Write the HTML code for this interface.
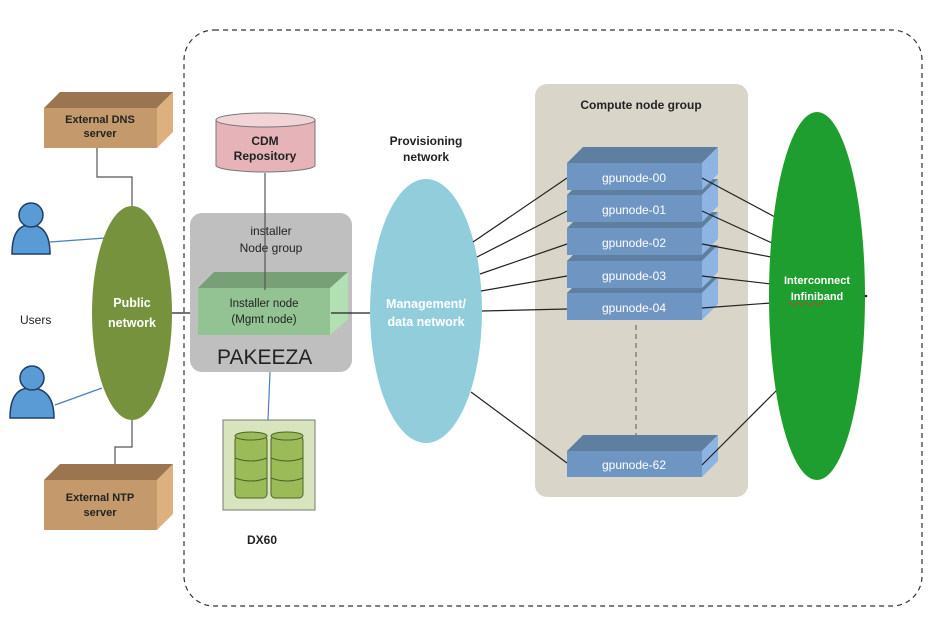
<!DOCTYPE html>
<html><head><meta charset="utf-8"><style>
body{margin:0;background:#fff;}
svg{display:block;font-family:"Liberation Sans",sans-serif;}
</style></head><body>
<svg width="934" height="634" viewBox="0 0 934 634" xmlns="http://www.w3.org/2000/svg">
<rect x="184" y="30" width="738" height="576" rx="30" fill="none" stroke="#333" stroke-width="1.2" stroke-dasharray="5,4"/>
<polyline points="97,148 97,177 132,177 132,207" fill="none" stroke="#555" stroke-width="1.2"/>
<polyline points="132,420 132,447 115,447 115,480" fill="none" stroke="#555" stroke-width="1.2"/>
<line x1="50" y1="242" x2="105" y2="238" stroke="#4a7fc1" stroke-width="1.2"/>
<line x1="55" y1="405" x2="102" y2="388" stroke="#4a7fc1" stroke-width="1.2"/>
<line x1="170" y1="313" x2="200" y2="313" stroke="#222" stroke-width="1.2"/>
<polygon points="44,108 60,92 173,92 157,108" fill="#9a7550"/>
<polygon points="157,108 173,92 173,132 157,148" fill="#ddb07f"/>
<rect x="44" y="108" width="113" height="40" fill="#c49a6c"/>
<text x="100" y="123" font-size="11" font-weight="bold" text-anchor="middle" fill="#222">External DNS</text>
<text x="100" y="137" font-size="11" font-weight="bold" text-anchor="middle" fill="#222">server</text>
<polygon points="44,480 60,464 173,464 157,480" fill="#9a7550"/>
<polygon points="157,480 173,464 173,514 157,530" fill="#ddb07f"/>
<rect x="44" y="480" width="113" height="50" fill="#c49a6c"/>
<text x="100" y="501" font-size="11" font-weight="bold" text-anchor="middle" fill="#222">External NTP</text>
<text x="100" y="516" font-size="11" font-weight="bold" text-anchor="middle" fill="#222">server</text>
<g fill="#5b9bd5" stroke="#1f3f66" stroke-width="1.5">
<path d="M12,254 Q12,225 30,225 Q50,225 50,254 Z"/><circle cx="31" cy="215" r="12"/>
<path d="M10,418 Q10,388 30,388 Q54,388 54,418 Z"/><circle cx="32" cy="378" r="12"/>
</g>
<text x="20" y="324" font-size="12" fill="#222">Users</text>
<ellipse cx="132" cy="313" rx="40" ry="107" fill="#76923c"/>
<text x="132" y="307" font-size="12.5" font-weight="bold" text-anchor="middle" fill="#fff">Public</text>
<text x="132" y="327" font-size="12.5" font-weight="bold" text-anchor="middle" fill="#fff">network</text>
<rect x="190" y="213" width="162" height="159" rx="12" fill="#bfbfbf"/>
<text x="271" y="235" font-size="12" text-anchor="middle" fill="#222">installer</text>
<text x="271" y="252" font-size="12" text-anchor="middle" fill="#222">Node group</text>
<polygon points="198,288 214,272 348,272 330,288" fill="#77a077"/>
<polygon points="330,288 348,272 348,319 330,335" fill="#b3e0b3"/>
<rect x="198" y="288" width="132" height="47" fill="#93c393"/>
<text x="264" y="307" font-size="11.5" text-anchor="middle" fill="#222">Installer node</text>
<text x="264" y="323" font-size="11.5" text-anchor="middle" fill="#222">(Mgmt node)</text>
<text x="217" y="364" font-size="21" fill="#222">PAKEEZA</text>
<line x1="265" y1="173" x2="265" y2="290" stroke="#555" stroke-width="1.2"/>
<line x1="331" y1="313" x2="372" y2="313" stroke="#222" stroke-width="1.2"/>
<path d="M216,120 L216,166 A50,7 0 0 0 315,166 L315,120 Z" fill="#e6b4b8" stroke="#777"/>
<ellipse cx="265.5" cy="120" rx="49.5" ry="7" fill="#f2d4d7" stroke="#777"/>
<text x="265" y="145" font-size="12" font-weight="bold" text-anchor="middle" fill="#222">CDM</text>
<text x="265" y="160" font-size="12" font-weight="bold" text-anchor="middle" fill="#222">Repository</text>
<line x1="270" y1="372" x2="268" y2="420" stroke="#4a7fc1" stroke-width="1.2"/>
<rect x="223" y="420" width="92" height="90" fill="#d7e4bd" stroke="#777"/>
<g fill="#9bbb59" stroke="#4f6228" stroke-width="1">
<rect x="235" y="436" width="32" height="62" rx="4"/><rect x="271" y="436" width="32" height="62" rx="4"/>
<ellipse cx="251" cy="436" rx="16" ry="4"/><ellipse cx="287" cy="436" rx="16" ry="4"/>
<path d="M235,458 Q251,464 267,458 M271,458 Q287,464 303,458 M235,478 Q251,484 267,478 M271,478 Q287,484 303,478" fill="none"/>
</g>
<text x="262" y="544" font-size="12" font-weight="bold" text-anchor="middle" fill="#222">DX60</text>
<text x="426" y="145" font-size="12" font-weight="bold" text-anchor="middle" fill="#222">Provisioning</text>
<text x="426" y="161" font-size="12" font-weight="bold" text-anchor="middle" fill="#222">network</text>
<ellipse cx="426" cy="311" rx="56" ry="132" fill="#92cddc"/>
<text x="426" y="308" font-size="12.5" font-weight="bold" text-anchor="middle" fill="#fff">Management/</text>
<text x="426" y="326" font-size="12.5" font-weight="bold" text-anchor="middle" fill="#fff">data network</text>
<rect x="535" y="84" width="213" height="413" rx="12" fill="#d9d6c9"/>
<text x="641" y="109" font-size="12" font-weight="bold" text-anchor="middle" fill="#222">Compute node group</text>
<line x1="636" y1="325" x2="636" y2="452" stroke="#555" stroke-dasharray="5,4"/>
<g stroke="#222" stroke-width="1.2">
<line x1="473" y1="242" x2="567" y2="178"/><line x1="477" y1="257" x2="567" y2="211"/>
<line x1="480" y1="274" x2="567" y2="244"/><line x1="481" y1="291" x2="567" y2="276"/>
<line x1="482" y1="311" x2="567" y2="309"/><line x1="471" y1="392" x2="567" y2="463"/>
</g>
<g>
<g><polygon points="567,293 583,277 718,277 702,293" fill="#5f7fa0"/><polygon points="702,293 718,277 718,304 702,320" fill="#8db4e2"/><rect x="567" y="293" width="135" height="27" fill="#6f96c3"/><text x="634" y="312" font-size="12" text-anchor="middle" fill="#fff">gpunode-04</text></g>
<g><polygon points="567,261 583,245 718,245 702,261" fill="#5f7fa0"/><polygon points="702,261 718,245 718,272 702,288" fill="#8db4e2"/><rect x="567" y="261" width="135" height="27" fill="#6f96c3"/><text x="634" y="280" font-size="12" text-anchor="middle" fill="#fff">gpunode-03</text></g>
<g><polygon points="567,228 583,212 718,212 702,228" fill="#5f7fa0"/><polygon points="702,228 718,212 718,239 702,255" fill="#8db4e2"/><rect x="567" y="228" width="135" height="27" fill="#6f96c3"/><text x="634" y="247" font-size="12" text-anchor="middle" fill="#fff">gpunode-02</text></g>
<g><polygon points="567,195 583,179 718,179 702,195" fill="#5f7fa0"/><polygon points="702,195 718,179 718,206 702,222" fill="#8db4e2"/><rect x="567" y="195" width="135" height="27" fill="#6f96c3"/><text x="634" y="214" font-size="12" text-anchor="middle" fill="#fff">gpunode-01</text></g>
<g><polygon points="567,163 583,147 718,147 702,163" fill="#5f7fa0"/><polygon points="702,163 718,147 718,174 702,190" fill="#8db4e2"/><rect x="567" y="163" width="135" height="27" fill="#6f96c3"/><text x="634" y="182" font-size="12" text-anchor="middle" fill="#fff">gpunode-00</text></g>
<g><polygon points="567,451 583,435 718,435 702,451" fill="#5f7fa0"/><polygon points="702,451 718,435 718,461 702,477" fill="#8db4e2"/><rect x="567" y="451" width="135" height="26" fill="#6f96c3"/><text x="634" y="469" font-size="12" text-anchor="middle" fill="#fff">gpunode-62</text></g>
</g>
<g stroke="#222" stroke-width="1.2">
<line x1="702" y1="178" x2="775" y2="217"/><line x1="702" y1="211" x2="772" y2="243"/>
<line x1="702" y1="244" x2="771" y2="257"/><line x1="702" y1="276" x2="771" y2="284"/>
<line x1="702" y1="308" x2="771" y2="303"/><line x1="702" y1="465" x2="777" y2="390"/>
</g>
<ellipse cx="817" cy="296" rx="48" ry="184" fill="#1e9e2e"/>
<text x="817" y="284" font-size="11" font-weight="bold" text-anchor="middle" fill="#fff">Interconnect</text>
<text x="817" y="300" font-size="11" font-weight="bold" text-anchor="middle" fill="#fff">Infiniband</text>
<path d="M788,304 q2,-2 4,0 t4,0 t4,0 t4,0 t4,0 t4,0 t4,0 t4,0 t4,0" fill="none" stroke="#d33" stroke-width="0.8"/>
<circle cx="866" cy="296" r="1.3" fill="#222"/>
</svg>
</body></html>
